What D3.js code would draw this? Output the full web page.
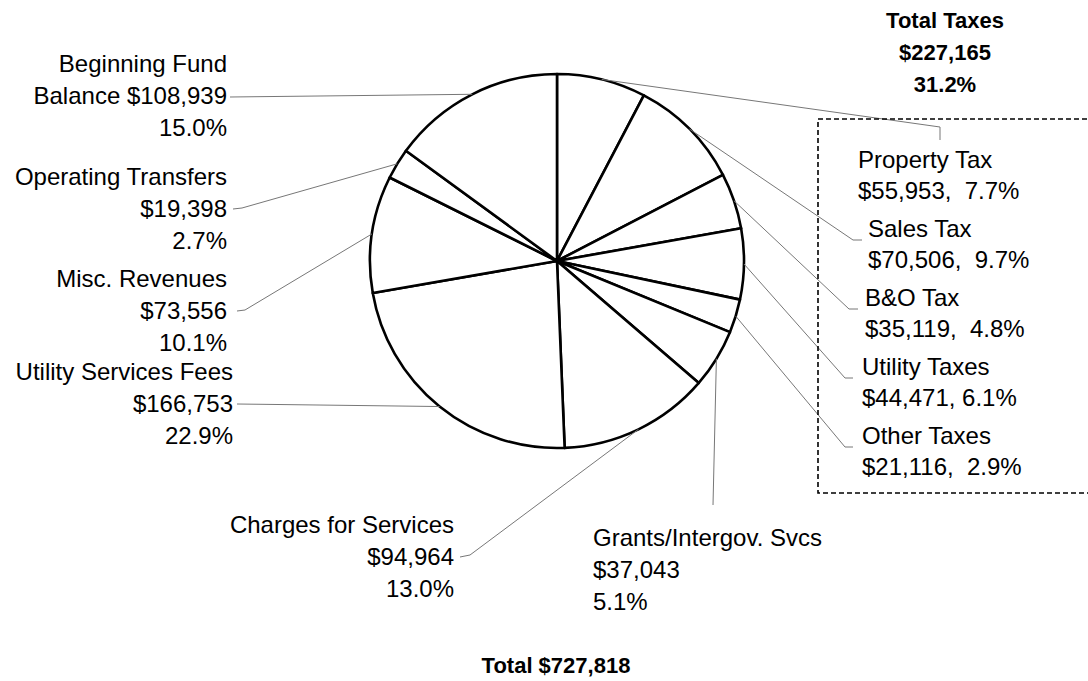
<!DOCTYPE html>
<html>
<head>
<meta charset="utf-8">
<script src="https://cdn.jsdelivr.net/npm/d3@7"></script>
<style>
  html, body { margin: 0; padding: 0; background: #fff; }
  svg { display: block; }
  text { font-family: "Liberation Sans", Arial, sans-serif; fill: #000; white-space: pre; }
</style>
</head>
<body>
<svg id="chart" width="1088" height="681"></svg>
<script>
// Revenue sources, clockwise from 12 o'clock
const categories = [
  "Property Tax", "Sales Tax", "B&O Tax", "Utility Taxes", "Other Taxes",
  "Grants/Intergov. Svcs", "Charges for Services", "Utility Services Fees",
  "Misc. Revenues", "Operating Transfers", "Beginning Fund Balance"
];
const values = [55953, 70506, 35119, 44471, 21116, 37043, 94964, 166753, 73556, 19398, 108939];
// The first five sources are taxes, grouped in the dashed box
const taxCount = 5;
// Label text lines for each source name
const nameLines = [
  ["Property Tax"], ["Sales Tax"], ["B&O Tax"], ["Utility Taxes"], ["Other Taxes"],
  ["Grants/Intergov. Svcs"], ["Charges for Services"], ["Utility Services Fees"],
  ["Misc. Revenues"], ["Operating Transfers"], ["Beginning Fund", "Balance"]
];
// Separator between amount and percent in the tax box
const taxSeparators = [",  ", ",  ", ",  ", ", ", ",  "];

// Label placement: anchor, text x, first-line y, leader path points after the arc
const labelLayout = [
  { anchor: "start", x: 858, y: 160, path: [[940, 127], [940, 140]] },
  { anchor: "start", x: 868, y: 229, path: [[853, 240], [862, 240]] },
  { anchor: "start", x: 865, y: 298, path: [[849, 309], [858, 309]] },
  { anchor: "start", x: 862, y: 367, path: [[845, 378], [853, 378]] },
  { anchor: "start", x: 862, y: 436, path: [[845, 447], [853, 447]] },
  { anchor: "start", x: 593, y: 538, path: [[713, 505]] },
  { anchor: "end",   x: 454, y: 525, path: [[470, 555], [460, 557]] },
  { anchor: "end",   x: 233, y: 372, path: [[237, 404]] },
  { anchor: "end",   x: 227, y: 279, path: [[245, 310], [237, 311]] },
  { anchor: "end",   x: 227, y: 177, path: [[242, 208], [233, 209]] },
  { anchor: "end",   x: 227, y: 64,  path: [[230, 97]] }
];

const width = 1088, height = 681;
const cx = 557, cy = 261, radius = 187;
const lineGap = 32, taxLineGap = 31;
const fontSize = 24;

const total = d3.sum(values);
const taxTotal = d3.sum(values.slice(0, taxCount));
const fmtMoney = v => "$" + d3.format(",")(v);
const fmtPct = v => d3.format(".1%")(v / total);

const svg = d3.select("#chart");

// Pie
const pie = d3.pie().sort(null).value(d => d)(values);
const arc = d3.arc().innerRadius(0).outerRadius(radius);
const g = svg.append("g").attr("transform", `translate(${cx},${cy})`);
g.selectAll("path.slice")
  .data(pie)
  .join("path")
  .attr("class", "slice")
  .attr("d", arc)
  .attr("fill", "#fff")
  .attr("stroke", "#000")
  .attr("stroke-width", 2.6)
  .attr("stroke-linejoin", "round");

// Leader lines from each slice's mid-arc point to its label
const line = d3.line();
pie.forEach((d, i) => {
  const a = (d.startAngle + d.endAngle) / 2;
  const p0 = [cx + radius * Math.sin(a), cy - radius * Math.cos(a)];
  svg.append("path")
    .attr("d", line([p0, ...labelLayout[i].path]))
    .attr("fill", "none")
    .attr("stroke", "#777")
    .attr("stroke-width", 1);
});

// Labels
categories.forEach((c, i) => {
  const L = labelLayout[i];
  let lines;
  if (i < taxCount) {
    lines = [nameLines[i][0], fmtMoney(values[i]) + taxSeparators[i] + fmtPct(values[i])];
  } else if (nameLines[i].length > 1) {
    lines = [nameLines[i][0], nameLines[i][1] + " " + fmtMoney(values[i]), fmtPct(values[i])];
  } else {
    lines = [nameLines[i][0], fmtMoney(values[i]), fmtPct(values[i])];
  }
  const gap = i < taxCount ? taxLineGap : lineGap;
  const t = svg.append("text")
    .attr("text-anchor", L.anchor)
    .attr("font-size", fontSize);
  lines.forEach((s, k) => {
    t.append("tspan")
      .attr("x", L.x)
      .attr("y", L.y + k * gap)
      .attr("dy", "0.35em")
      .text(s);
  });
});

// Dashed box around the tax sources
svg.append("rect")
  .attr("x", 818).attr("y", 119)
  .attr("width", 290).attr("height", 374)
  .attr("fill", "none")
  .attr("stroke", "#000")
  .attr("stroke-width", 1.6)
  .attr("stroke-dasharray", "5,3");

// Tax total heading
const tt = svg.append("text")
  .attr("text-anchor", "middle")
  .attr("font-size", 22)
  .attr("font-weight", "bold");
["Total Taxes", fmtMoney(taxTotal), d3.format(".1%")(taxTotal / total)].forEach((s, k) => {
  tt.append("tspan").attr("x", 945).attr("y", 20 + k * 32).attr("dy", "0.35em").text(s);
});

// Grand total
svg.append("text")
  .attr("x", 556).attr("y", 665).attr("dy", "0.35em")
  .attr("text-anchor", "middle")
  .attr("font-size", 22)
  .attr("font-weight", "bold")
  .text("Total " + fmtMoney(total));
</script>
</body>
</html>
